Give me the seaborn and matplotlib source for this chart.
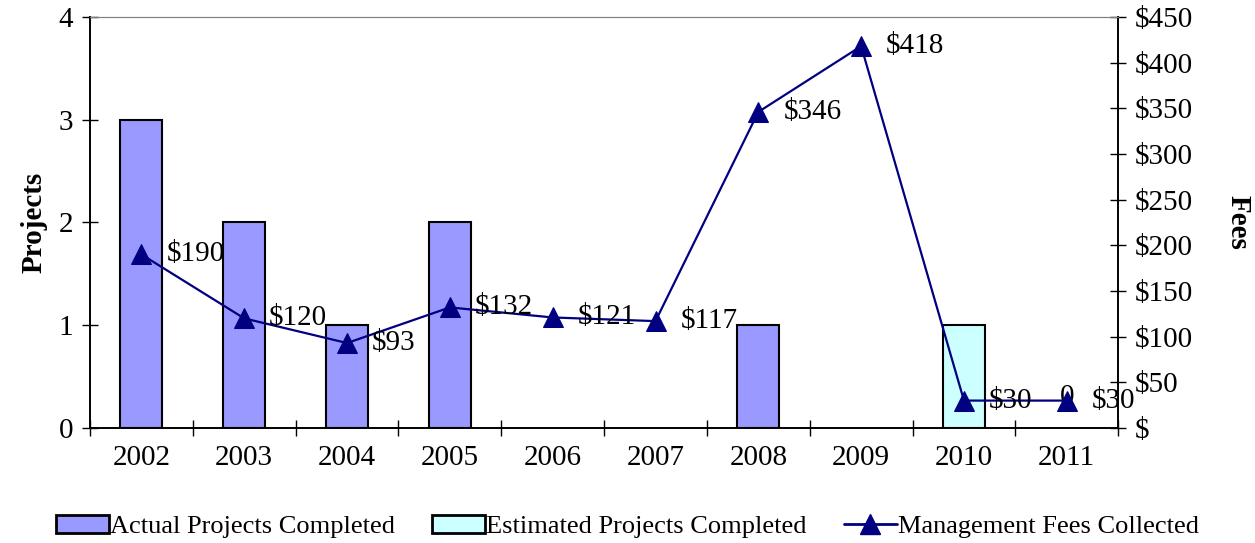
import matplotlib
matplotlib.use("Agg")
import matplotlib.pyplot as plt
import numpy as np
import pandas as pd
import seaborn as sns
from matplotlib.lines import Line2D
from matplotlib.patches import Patch
from matplotlib.ticker import FixedLocator, FuncFormatter

# Datos del gráfico
years = ["2002", "2003", "2004", "2005", "2006", "2007", "2008", "2009", "2010", "2011"]
actual_projects = [3, 2, 1, 2, 0, 0, 1, 0, 0, 0]
estimated_projects = [0, 0, 0, 0, 0, 0, 0, 0, 1, 0]
management_fees = [190, 120, 93, 132, 121, 117, 346, 418, 30, 30]

ACTUAL_COLOR = "#9999FF"
ESTIMATED_COLOR = "#CCFFFF"
LINE_COLOR = "#000080"

sns.set_style("ticks")
plt.rcParams["font.family"] = ["Liberation Serif", "DejaVu Serif"]
plt.rcParams["font.size"] = 21
for key in ("text.color", "axes.labelcolor", "xtick.color", "ytick.color"):
    plt.rcParams[key] = "black"

df = pd.DataFrame(
    {
        "year": years * 2,
        "projects": actual_projects + estimated_projects,
        "series": ["Actual Projects Completed"] * len(years)
        + ["Estimated Projects Completed"] * len(years),
    }
)

fig = plt.figure(figsize=(12.55, 5.43), dpi=100)
ax = fig.add_axes([0.0717, 0.2118, 0.8193, 0.757])

sns.barplot(
    data=df,
    x="year",
    y="projects",
    hue="series",
    order=years,
    dodge=False,
    palette=[ACTUAL_COLOR, ESTIMATED_COLOR],
    saturation=1,
    edgecolor="black",
    linewidth=1.5,
    width=0.41,
    legend=False,
    ax=ax,
)
# ocultar barras de altura cero (solo dejan borde)
for p in ax.patches:
    if p.get_height() == 0:
        p.set_visible(False)

ax.set_xlim(-0.5, len(years) - 0.5)
ax.set_ylim(0, 4)
ax.set_yticks([0, 1, 2, 3, 4])
ax.set_xlabel("")
ax.set_ylabel("Projects", fontweight="bold", labelpad=8)
ax.tick_params(axis="y", direction="inout", length=12, width=1, labelsize=21, pad=6)
ax.tick_params(axis="x", which="major", length=0, labelsize=21, pad=12)
ax.xaxis.set_minor_locator(FixedLocator(np.arange(-0.5, len(years), 1.0)))
ax.tick_params(axis="x", which="minor", direction="inout", length=12, width=1)

# etiqueta "0" del estimado 2011
ax.annotate(
    str(estimated_projects[-1]),
    (len(years) - 1, estimated_projects[-1]),
    xytext=(0, 22),
    textcoords="offset points",
    ha="center",
    va="center",
    fontsize=21,
)

ax2 = ax.twinx()
x_pos = np.arange(len(years))
sns.lineplot(
    x=x_pos,
    y=management_fees,
    color=LINE_COLOR,
    marker="^",
    markersize=14,
    markeredgecolor=LINE_COLOR,
    linewidth=1.6,
    ax=ax2,
)
ax2.set_ylim(0, 450)
ax2.set_yticks(np.arange(0, 451, 50))
ax2.yaxis.set_major_formatter(FuncFormatter(lambda v, _: f"${v:.0f}" if v else "$"))
ax2.tick_params(axis="y", direction="inout", length=12, width=1, labelsize=21, pad=6)
ax2.set_ylabel("Fees", fontweight="bold", rotation=270, labelpad=42)

for xi, fee in zip(x_pos, management_fees):
    ax2.annotate(
        f"${fee}",
        (xi, fee),
        xytext=(18, 0),
        textcoords="offset points",
        ha="left",
        va="center",
        fontsize=21,
    )

for a in (ax, ax2):
    for side in ("left", "right", "bottom"):
        a.spines[side].set_color("black")
        a.spines[side].set_linewidth(1.2)
    a.spines["top"].set_color("#808080")
    a.spines["top"].set_visible(True)
    a.spines["right"].set_visible(True)

handles = [
    Patch(facecolor=ACTUAL_COLOR, edgecolor="black", linewidth=2),
    Patch(facecolor=ESTIMATED_COLOR, edgecolor="black", linewidth=2),
    Line2D([0], [0], color=LINE_COLOR, marker="^", markersize=14, linewidth=2),
]
labels = ["Actual Projects Completed", "Estimated Projects Completed", "Management Fees Collected"]
fig.legend(
    handles,
    labels,
    loc="lower center",
    bbox_to_anchor=(0.5, -0.035),
    ncol=3,
    frameon=False,
    fontsize=19,
    handlelength=2.0,
    handletextpad=0.05,
    columnspacing=1.4,
)

fig.savefig("out.png", dpi=100)
